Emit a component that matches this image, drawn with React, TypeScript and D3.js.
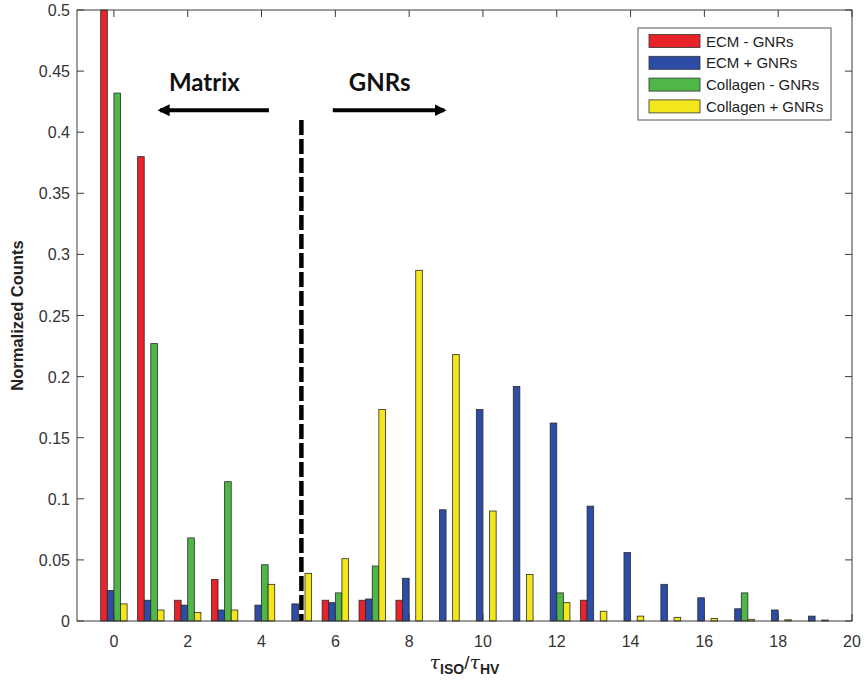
import React from "react";
import * as d3 from "d3";

// bin centres (tau_ISO / tau_HV)
const bins = [0, 1, 2, 3, 4, 5, 6, 7, 8, 9, 10, 11, 12, 13, 14, 15, 16, 17, 18, 19];

const seriesNames = ["ECM - GNRs", "ECM + GNRs", "Collagen - GNRs", "Collagen + GNRs"];
const seriesColors = ["#e8232a", "#2c4ca6", "#4fb748", "#f3e71b"];

const ecmMinus = [0.5, 0.38, 0.017, 0.034, 0, 0, 0.017, 0.017, 0.017, 0, 0, 0, 0, 0.017, 0, 0, 0, 0, 0, 0];
const ecmPlus = [0.025, 0.017, 0.013, 0.009, 0.013, 0.014, 0.015, 0.018, 0.035, 0.091, 0.173, 0.192, 0.162, 0.094, 0.056, 0.03, 0.019, 0.01, 0.009, 0.004];
const colMinus = [0.432, 0.227, 0.068, 0.114, 0.046, 0, 0.023, 0.045, 0, 0, 0, 0, 0.023, 0, 0, 0, 0, 0.023, 0, 0];
const colPlus = [0.014, 0.009, 0.007, 0.009, 0.03, 0.039, 0.051, 0.173, 0.287, 0.218, 0.09, 0.038, 0.015, 0.008, 0.004, 0.003, 0.002, 0.0014, 0.001, 0.0008];

const xTicks = [0, 2, 4, 6, 8, 10, 12, 14, 16, 18, 20];
const yTicks = [0, 0.05, 0.1, 0.15, 0.2, 0.25, 0.3, 0.35, 0.4, 0.45, 0.5];
const yTickLabels = ["0", "0.05", "0.1", "0.15", "0.2", "0.25", "0.3", "0.35", "0.4", "0.45", "0.5"];

const width = 865;
const height = 687;
const margin = { top: 10, right: 13, bottom: 66, left: 77 };

export default function App() {
  const x = d3.scaleLinear().domain([-1, 20]).range([margin.left, width - margin.right]);
  const y = d3.scaleLinear().domain([0, 0.5]).range([height - margin.bottom, margin.top]);
  const sub = d3.scaleBand().domain(seriesNames).range([-13.2, 13.2]);

  const all = [ecmMinus, ecmPlus, colMinus, colPlus];
  const axisColor = "#3a3a3a";
  const tickFont = "Liberation Sans, Arial, sans-serif";
  const x0 = margin.left, x1 = width - margin.right, y0 = height - margin.bottom, y1 = margin.top;

  return (
    <svg width={width} height={height} style={{ position: "fixed", left: 0, top: 0, background: "#fff" }}>
      <rect x={0} y={0} width={width} height={height} fill="#fff" />

      {/* bars */}
      {all.map((vals, si) => (
        <g key={si} fill={seriesColors[si]} stroke="#2a2a2a" strokeWidth={0.8}>
          {vals.map((v, i) =>
            v > 0 ? (
              <rect
                key={i}
                x={x(bins[i]) + (sub(seriesNames[si]) as number)}
                y={y(v)}
                width={sub.bandwidth()}
                height={y(0) - y(v)}
              />
            ) : null
          )}
        </g>
      ))}

      {/* axes box */}
      <rect x={x0} y={y1} width={x1 - x0} height={y0 - y1} fill="none" stroke={axisColor} strokeWidth={1} />

      {xTicks.map((t) => (
        <g key={t}>
          <line x1={x(t)} x2={x(t)} y1={y0} y2={y0 - 7} stroke={axisColor} />
          <line x1={x(t)} x2={x(t)} y1={y1} y2={y1 + 7} stroke={axisColor} />
          <text x={x(t)} y={y0 + 26} textAnchor="middle" fontFamily={tickFont} fontSize={16} fill="#333">
            {t}
          </text>
        </g>
      ))}
      {yTicks.map((t, i) => (
        <g key={t}>
          <line x1={x0} x2={x0 + 7} y1={y(t)} y2={y(t)} stroke={axisColor} />
          <line x1={x1} x2={x1 - 7} y1={y(t)} y2={y(t)} stroke={axisColor} />
          <text x={x0 - 7} y={y(t) + 6} textAnchor="end" fontFamily={tickFont} fontSize={16} fill="#333">
            {yTickLabels[i]}
          </text>
        </g>
      ))}

      {/* dashed divider */}
      <line x1={x(5.08)} x2={x(5.08)} y1={y(0.41)} y2={y(0)} stroke="#000" strokeWidth={4.5} strokeDasharray="15,4" />

      {/* annotations */}
      <defs>
        <marker id="ah" viewBox="0 0 10 10" refX={8} refY={5} markerWidth={3} markerHeight={3} orient="auto">
          <path d="M0,0 L10,5 L0,10 z" fill="#000" />
        </marker>
      </defs>
      <line x1={x(4.2)} x2={x(1.25)} y1={y(0.418)} y2={y(0.418)} stroke="#000" strokeWidth={4} markerEnd="url(#ah)" />
      <line x1={x(5.93)} x2={x(8.95)} y1={y(0.418)} y2={y(0.418)} stroke="#000" strokeWidth={4} markerEnd="url(#ah)" />
      <text x={x(2.45)} y={y(0.434)} textAnchor="middle" fontFamily="Lato, sans-serif" fontWeight="bold" fontSize={24} fill="#111">
        Matrix
      </text>
      <text x={x(7.2)} y={y(0.434)} textAnchor="middle" fontFamily="Lato, sans-serif" fontWeight="bold" fontSize={24} fill="#111">
        GNRs
      </text>

      {/* legend */}
      <g>
        <rect x={638} y={28} width={193} height={92} fill="#fff" stroke="#555" strokeWidth={1} />
        {seriesNames.map((n, i) => (
          <g key={n} transform={`translate(649, ${41 + i * 21.8})`}>
            <rect x={0} y={-6.5} width={51} height={13} fill={seriesColors[i]} stroke="#333" strokeWidth={0.8} />
            <text x={57} y={5.5} fontFamily={tickFont} fontSize={15} fill="#222">
              {n}
            </text>
          </g>
        ))}
      </g>

      {/* axis labels */}
      <text
        transform={`translate(23, ${(y0 + y1) / 2}) rotate(-90)`}
        textAnchor="middle"
        fontFamily={tickFont}
        fontWeight="bold"
        fontSize={16.5}
        fill="#222"
      >
        Normalized Counts
      </text>
      <text x={(x0 + x1) / 2} y={669} textAnchor="middle" fontFamily={tickFont} fill="#222">
        <tspan fontSize={19} fontStyle="italic" fontFamily="DejaVu Serif, serif">τ</tspan>
        <tspan fontSize={14} dy={5} fontWeight="bold">ISO</tspan>
        <tspan fontSize={19} dy={-5}>/</tspan>
        <tspan fontSize={19} fontStyle="italic" fontFamily="DejaVu Serif, serif">τ</tspan>
        <tspan fontSize={14} dy={5} fontWeight="bold">HV</tspan>
      </text>
    </svg>
  );
}
